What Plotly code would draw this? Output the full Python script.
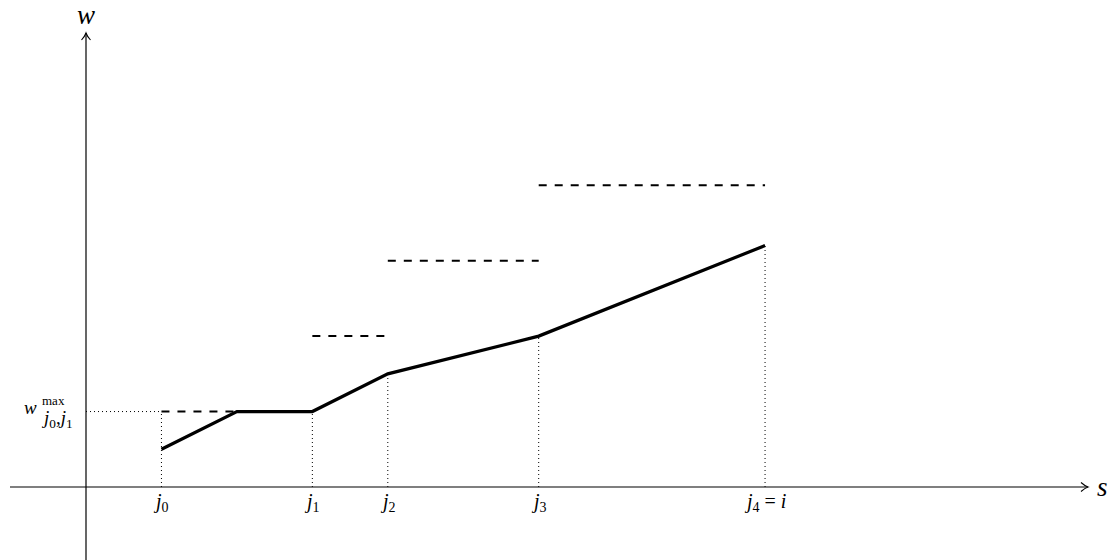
import plotly.graph_objects as go

# Breakpoints of the accumulated weight curve w(s)
s_points = [1, 2, 3, 4, 6, 9]
w_points = [0.5, 1.0, 1.0, 1.5, 2.0, 3.2]

# Per-interval maximum weights (dashed caps)
cap_start = [1, 3, 4, 6]
cap_end = [2, 4, 6, 9]
cap_level = [1.0, 2.0, 3.0, 4.0]

# Marked positions on the s axis
j_pos = [1, 3, 4, 6, 9]
j_top = [1.0, 1.0, 1.5, 2.0, 3.2]
j_labels = ["<i>j</i><sub>0</sub>", "<i>j</i><sub>1</sub>", "<i>j</i><sub>2</sub>",
            "<i>j</i><sub>3</sub>", "<i>j</i><sub>4</sub> = <i>i</i>"]
wmax_level = 1.0

W, H = 1117, 560
PX = 75.45          # pixels per unit
X0, Y0 = 86, 487    # pixel position of the origin

def sx(p):  # pixel -> data (horizontal)
    return (p - X0) / PX

def sy(p):  # pixel -> data (vertical)
    return (Y0 - p) / PX

FONT = "Liberation Serif"
fig = go.Figure()

# dotted guides
for x, top in zip(j_pos, j_top):
    fig.add_trace(go.Scatter(x=[x, x], y=[0, top], mode="lines",
                             line=dict(color="black", width=1, dash="1px,3px"),
                             hoverinfo="skip", showlegend=False))
fig.add_trace(go.Scatter(x=[0, j_pos[0]], y=[wmax_level, wmax_level], mode="lines",
                         line=dict(color="black", width=1, dash="1px,3px"),
                         hoverinfo="skip", showlegend=False))

# dashed caps
for a, b, lv in zip(cap_start, cap_end, cap_level):
    fig.add_trace(go.Scatter(x=[a, b], y=[lv, lv], mode="lines",
                             line=dict(color="black", width=2, dash="8px,8px"),
                             hoverinfo="skip", showlegend=False))

# weight curve
fig.add_trace(go.Scatter(x=s_points, y=w_points, mode="lines",
                         line=dict(color="black", width=3.2),
                         hoverinfo="skip", showlegend=False))

# axes with open arrow heads
xtip, ytip = 1088, 33
fig.add_shape(type="line", x0=sx(10), x1=sx(xtip), y0=0, y1=0,
              line=dict(color="black", width=1.2))
fig.add_shape(type="line", x0=0, x1=0, y0=sy(H + 5), y1=sy(ytip),
              line=dict(color="black", width=1.2))
ah, aw = 7, 4.5
fig.add_shape(type="path",
              path=f"M {sx(xtip-ah)},{sy(Y0-aw)} Q {sx(xtip-3)},{sy(Y0-1)} {sx(xtip)},0 "
                   f"Q {sx(xtip-3)},{sy(Y0+1)} {sx(xtip-ah)},{sy(Y0+aw)}",
              line=dict(color="black", width=1.1))
fig.add_shape(type="path",
              path=f"M {sx(X0-aw)},{sy(ytip+ah)} Q {sx(X0-1)},{sy(ytip+3)} 0,{sy(ytip)} "
                   f"Q {sx(X0+1)},{sy(ytip+3)} {sx(X0+aw)},{sy(ytip+ah)}",
              line=dict(color="black", width=1.1))

# axis names
fig.add_annotation(x=sx(1102), y=0, text="<i>s</i>", showarrow=False,
                   font=dict(family=FONT, size=27, color="black"))
fig.add_annotation(x=0, y=sy(15), text="<i>w</i>", showarrow=False,
                   font=dict(family=FONT, size=27, color="black"))

# s-axis labels
for x, lab in zip(j_pos, j_labels):
    fig.add_annotation(x=x, y=sy(502), text=lab, showarrow=False,
                       font=dict(family=FONT, size=20, color="black"))

# w^max_{j0,j1} label
fig.add_annotation(x=sx(39), y=wmax_level, text="<i>w</i>", showarrow=False,
                   xanchor="right", yanchor="middle", yshift=4,
                   font=dict(family=FONT, size=19, color="black"))
fig.add_annotation(x=sx(40), y=wmax_level, text="max", showarrow=False,
                   xanchor="left", yanchor="bottom", yshift=2,
                   font=dict(family=FONT, size=13, color="black"))
fig.add_annotation(x=sx(39), y=wmax_level, text="<i>j</i><sub>0</sub>,<i>j</i><sub>1</sub>",
                   showarrow=False, xanchor="left", yanchor="top", yshift=7,
                   font=dict(family=FONT, size=19, color="black"))

fig.update_layout(
    width=W, height=H,
    margin=dict(l=0, r=0, t=0, b=0),
    paper_bgcolor="white", plot_bgcolor="white",
    xaxis=dict(range=[sx(0), sx(W)], visible=False, fixedrange=True),
    yaxis=dict(range=[sy(H), sy(0)], visible=False, fixedrange=True),
    showlegend=False,
)

fig.write_html("out.html")
